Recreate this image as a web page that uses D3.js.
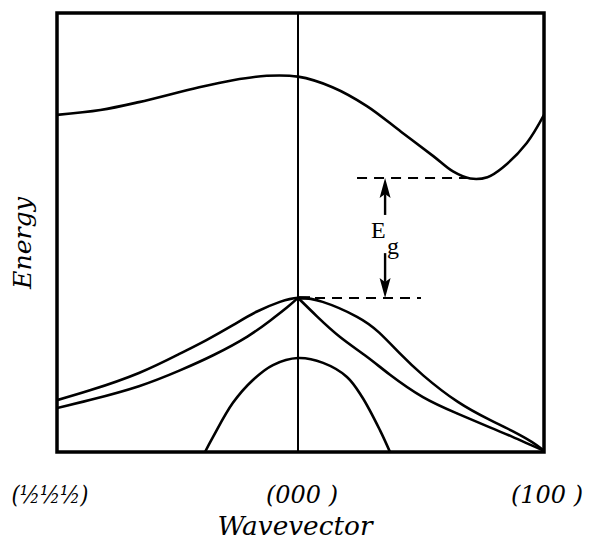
<!DOCTYPE html>
<html>
<head>
<meta charset="utf-8">
<script src="https://cdn.jsdelivr.net/npm/d3@7"></script>
<style>
  html, body { margin: 0; padding: 0; background: #fff; }
  svg { display: block; }
</style>
</head>
<body>
<script>
// ---- Data (wavevector k: -1 = (½½½), 0 = (000), 1 = (100); energy in arbitrary units) ----
const kTicks = [-1, 0, 1];
const kTickLabels = ["(½½½)", "(000 )", "(100 )"];

const conductionBand = [[-1.00,76.8],[-0.82,77.9],[-0.66,79.7],[-0.41,83.1],[-0.27,84.7],[-0.13,85.7],[0,85.5],
  [0.14,83.1],[0.28,78.8],[0.42,72.9],[0.55,67.4],[0.63,63.9],[0.70,62.3],[0.77,62.6],[0.83,64.7],[0.93,70.4],[1.00,76.8]];

const heavyHoleBand = [[-1,11.8],[-0.86,14.1],[-0.66,18.0],[-0.49,22.4],[-0.38,25.5],[-0.27,28.9],[-0.17,32.0],[-0.075,34.2],[0,35.1],
  [0.10,34.2],[0.24,30.8],[0.33,27.2],[0.415,22.4],[0.51,17.4],[0.65,11.4],[0.78,7.3],[0.87,4.8],[0.95,2.3],[1,0.3]];

const lightHoleLeft = [[-1,10.0],[-0.86,11.9],[-0.66,15.0],[-0.49,18.6],[-0.35,22.1],[-0.21,26.3],[-0.116,29.9],[-0.046,32.9],[0,35.1]];
const lightHoleRight = [[0,35.1],[0.077,30.9],[0.171,26.2],[0.28,21.7],[0.374,17.6],[0.508,12.5],[0.646,8.8],[0.78,5.6],[0.87,3.5],[0.95,1.5],[1,0.3]];

const splitOffBand = [[-0.386,0],[-0.353,3.4],[-0.27,11.2],[-0.187,16.4],[-0.104,19.8],[0,21.4],[0.102,20.3],[0.199,17.1],[0.26,12.6],[0.333,5.0],[0.374,0]];

const conductionMin = 62.4;   // E_c
const valenceMax = 35.1;      // E_v
const topDashK = [0.24, 0.69];
const bottomDashK = [0, 0.5];
const gapArrowK = 0.354;
const upArrowTail = 54.0;
const downArrowTail = 45.3;

// ---- Layout ----
const W = 592, H = 540;
const svg = d3.select("body").append("svg").attr("width", W).attr("height", H);
svg.append("rect").attr("width", W).attr("height", H).attr("fill", "#fff");

const x = d3.scaleLinear().domain([-1, 0, 1]).range([57, 298, 544]);
const y = d3.scaleLinear().domain([0, 100]).range([452, 13]);

svg.append("clipPath").attr("id", "plot").append("rect")
  .attr("x", 57).attr("y", 13).attr("width", 487).attr("height", 439);

const g = svg.append("g").attr("clip-path", "url(#plot)");

const lineCR = d3.line().x(d => x(d[0])).y(d => y(d[1])).curve(d3.curveCatmullRom.alpha(0.5));
const lineNat = d3.line().x(d => x(d[0])).y(d => y(d[1])).curve(d3.curveNatural);

// vertical line at Gamma
g.append("line").attr("x1", x(0)).attr("x2", x(0)).attr("y1", y(100)).attr("y2", y(0))
  .attr("stroke", "#000").attr("stroke-width", 2);

[[conductionBand, lineCR], [heavyHoleBand, lineNat], [lightHoleLeft, lineNat], [lightHoleRight, lineNat], [splitOffBand, lineCR]].forEach(([d, ln]) => {
  g.append("path").attr("d", ln(d)).attr("fill", "none").attr("stroke", "#000")
    .attr("stroke-width", 2.6).attr("stroke-linejoin", "round").attr("stroke-linecap", "round");
});

// dashed reference lines
[[topDashK, conductionMin], [bottomDashK, valenceMax]].forEach(([ks, e]) => {
  svg.append("line").attr("x1", x(ks[0])).attr("x2", x(ks[1])).attr("y1", y(e)).attr("y2", y(e))
    .attr("stroke", "#000").attr("stroke-width", 2).attr("stroke-dasharray", "10,7");
});
// small bold mark at the valence maximum
svg.append("line").attr("x1", x(0)).attr("x2", x(0) + 12).attr("y1", y(valenceMax)).attr("y2", y(valenceMax))
  .attr("stroke", "#000").attr("stroke-width", 3.5);

// gap arrows
const ax = x(gapArrowK);
function arrow(tailE, tipE) {
  const yt = y(tipE), yb = y(tailE);
  const dir = yb > yt ? 1 : -1;
  const headLen = 20, hw = 5.5;
  svg.append("line").attr("x1", ax).attr("x2", ax).attr("y1", yb).attr("y2", yt + dir * headLen * 0.8)
    .attr("stroke", "#000").attr("stroke-width", 2.4);
  svg.append("path")
    .attr("d", `M${ax},${yt} L${ax - hw},${yt + dir * headLen} L${ax},${yt + dir * headLen * 0.8} L${ax + hw},${yt + dir * headLen} Z`)
    .attr("fill", "#000");
}
arrow(upArrowTail, conductionMin);
arrow(downArrowTail, valenceMax);

svg.append("text").attr("x", 371).attr("y", 238).text("E")
  .attr("font-family", "Liberation Serif").attr("font-size", 24);
svg.append("text").attr("x", 387).attr("y", 254).text("g")
  .attr("font-family", "Liberation Serif").attr("font-size", 24);

// frame
svg.append("rect").attr("x", 57).attr("y", 13).attr("width", 487).attr("height", 439)
  .attr("fill", "none").attr("stroke", "#000").attr("stroke-width", 3.5);

// tick labels
const labelFont = "'DejaVu Serif Condensed', 'DejaVu Serif'";
const tickPos = [50, 302, 547];
const tickLen = [77, 72, 72];
kTicks.forEach((k, i) => {
  svg.append("text").attr("x", tickPos[i]).attr("y", 503).attr("text-anchor", "middle")
    .attr("font-family", labelFont).attr("font-style", "italic").attr("font-size", 25)
    .attr("textLength", tickLen[i]).attr("lengthAdjust", "spacingAndGlyphs")
    .text(kTickLabels[i]);
});

svg.append("text").attr("x", 295).attr("y", 535).attr("text-anchor", "middle")
  .attr("font-family", labelFont).attr("font-style", "italic").attr("font-size", 26)
  .attr("textLength", 155).attr("lengthAdjust", "spacingAndGlyphs")
  .text("Wavevector");

svg.append("text").attr("transform", "translate(31,243) rotate(-90)").attr("text-anchor", "middle")
  .attr("font-family", labelFont).attr("font-style", "italic").attr("font-size", 25)
  .attr("textLength", 92).attr("lengthAdjust", "spacingAndGlyphs")
  .text("Energy");
</script>
</body>
</html>
